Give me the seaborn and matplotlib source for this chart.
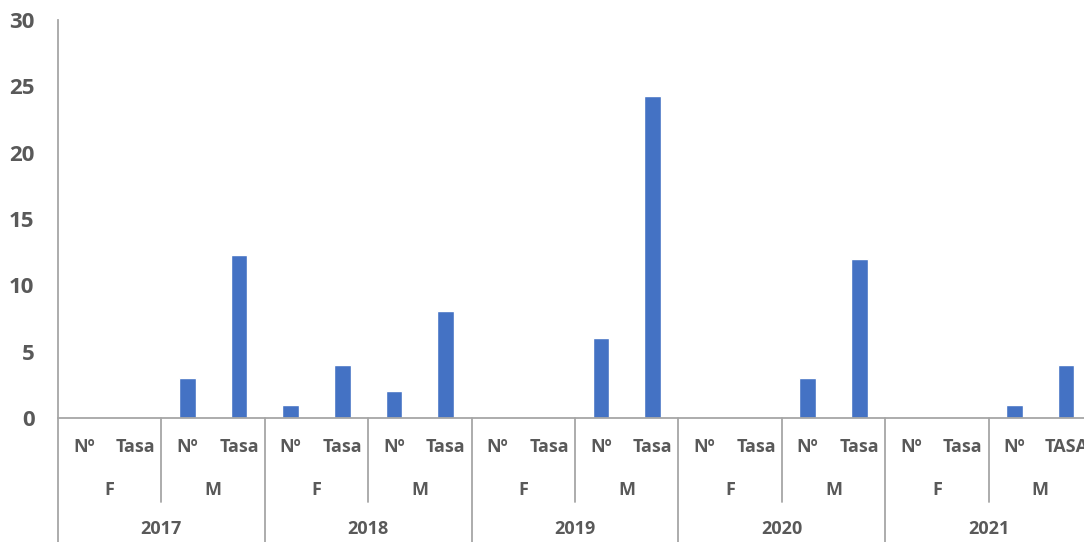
import pandas as pd
import matplotlib.pyplot as plt
import seaborn as sns

# Data
years = ["2017", "2018", "2019", "2020", "2021"]
sexes = ["F", "M"]
measures = [
    "Nº", "Tasa", "Nº", "Tasa",
    "Nº", "Tasa", "Nº", "Tasa",
    "Nº", "Tasa", "Nº", "Tasa",
    "Nº", "Tasa", "Nº", "Tasa",
    "Nº", "Tasa", "Nº", "TASA",
]
values = [
    0, 0, 3, 12.3,
    1, 4.0, 2, 8.1,
    0, 0, 6, 24.3,
    0, 0, 3, 12.0,
    0, 0, 1, 4.0,
]

df = pd.DataFrame({
    "key": [f"c{i}" for i in range(len(values))],
    "measure": measures,
    "value": values,
})

sns.set_style("white")
plt.rcParams["font.family"] = ["Open Sans", "DejaVu Sans"]

text_col = "#595959"
line_col = "#A6A6A6"
bar_col = "#4472C4"

fig = plt.figure(figsize=(10.84, 5.42), dpi=100)
ax = fig.add_axes([58 / 1084, 124 / 542, 1034 / 1084, 398 / 542])

sns.barplot(data=df, x="key", y="value", color=bar_col, width=0.32,
            saturation=1, ax=ax)

ax.set_xlim(-0.5, len(df) - 0.5)
ax.set_ylim(0, 30)
ax.set_yticks(range(0, 31, 5))
ax.set_xticks([])
ax.set_xlabel("")
ax.set_ylabel("")
ax.tick_params(axis="y", length=0, pad=17, labelsize=16, labelcolor=text_col)
for lab in ax.get_yticklabels():
    lab.set_fontweight("bold")

for side in ["top", "right"]:
    ax.spines[side].set_visible(False)
for side in ["left", "bottom"]:
    ax.spines[side].set_color(line_col)
    ax.spines[side].set_linewidth(1.3)

trans = ax.get_xaxis_transform()
lvl1_y = -(447 - 418) / 398
lvl2_y = -(490 - 418) / 398
lvl3_y = -(529 - 418) / 398
sep2 = -(502 - 418) / 398
sep3 = -(542 - 418) / 398

# measure labels
for i, meas in enumerate(df["measure"]):
    ax.text(i, lvl1_y, meas, transform=trans, ha="center", va="center",
            fontsize=13, color=text_col, fontweight="bold")

# sex labels
for g in range(len(years) * len(sexes)):
    ax.text(2 * g + 0.5, lvl2_y, sexes[g % 2], transform=trans, ha="center",
            va="center", fontsize=13, color=text_col, fontweight="bold")

# year labels
for yi, year in enumerate(years):
    ax.text(4 * yi + 1.5, lvl3_y, year, transform=trans, ha="center",
            va="center", fontsize=13, color=text_col, fontweight="bold")

# separators
ax.plot([-0.5, -0.5], [0, sep3], transform=trans, color=line_col, lw=1.3,
        clip_on=False)
for g in range(len(years) * len(sexes)):
    x = 2 * g + 1.5
    bottom = sep3 if (g + 1) % 2 == 0 else sep2
    ax.plot([x, x], [0, bottom], transform=trans, color=line_col, lw=1.3,
            clip_on=False)

fig.savefig("out.png", dpi=100)
